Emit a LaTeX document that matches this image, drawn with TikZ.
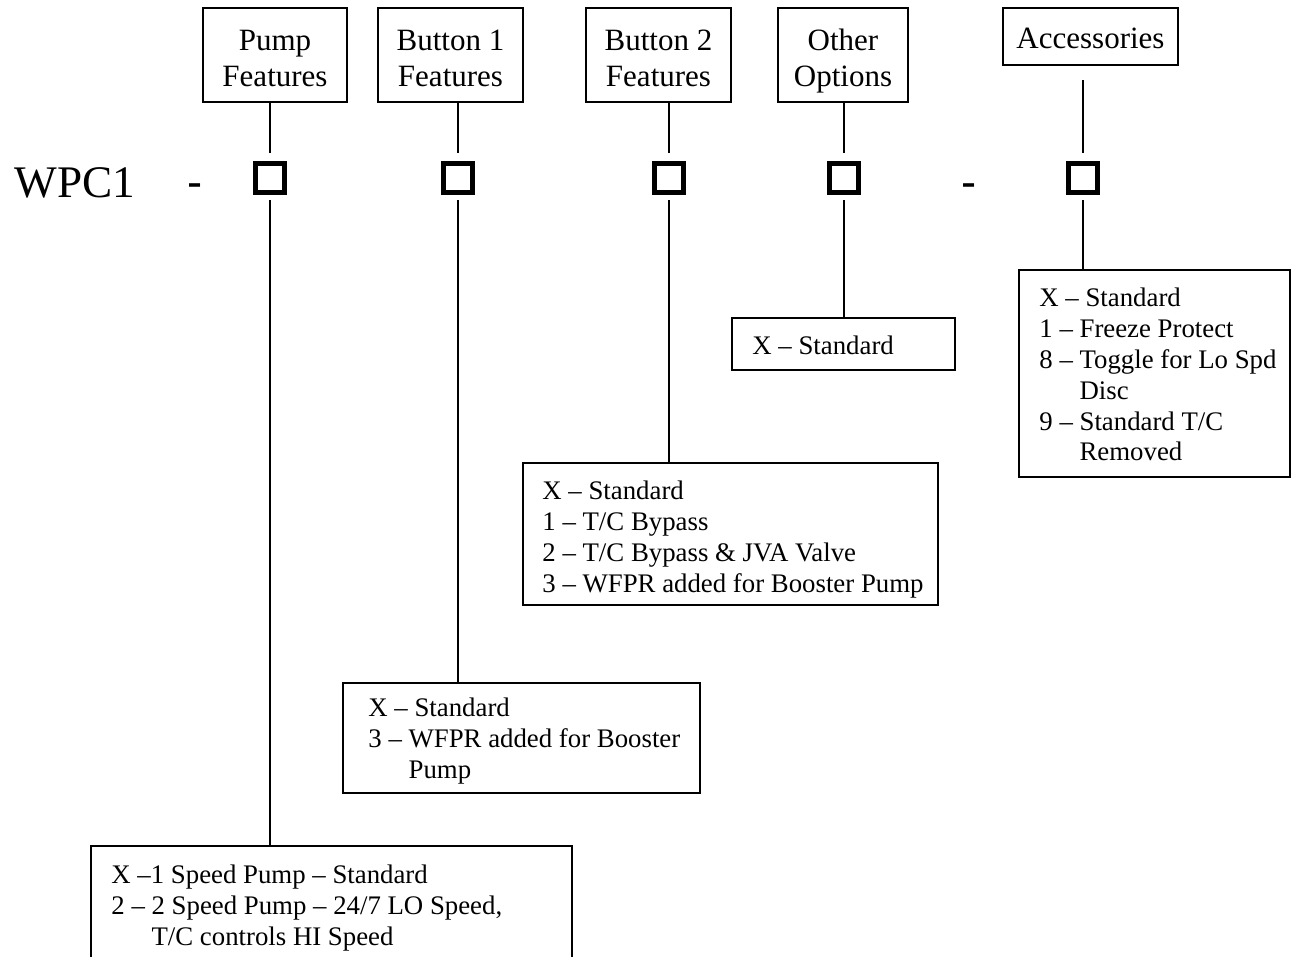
\documentclass[tikz,border=0pt]{standalone}
\usepackage{fontspec}
\setmainfont{Liberation Serif}
\newfontfamily\dashfont{Liberation Sans}
\begin{document}
\begin{tikzpicture}[x=0.5pt,y=-0.5pt,
  frame/.style={draw, line width=1pt, inner sep=0pt, outer sep=0pt, anchor=north west},
  headtext/.style={anchor=north, align=center, inner sep=0pt, font=\fontsize{15.5}{18.3}\selectfont},
  itemtext/.style={anchor=north west, align=left, inner sep=0pt, font=\fontsize{13.4}{15.45}\selectfont},
  slot/.style={draw, line width=2.5pt, minimum width=14.5pt, minimum height=14.5pt, inner sep=0pt, outer sep=0pt},
  link/.style={line width=1pt},
  bigtext/.style={inner sep=0pt, font=\fontsize{22.6}{26}\selectfont}
]
\useasboundingbox (0,0) rectangle (1291,957);

% header boxes
\node[frame, minimum width=72pt, minimum height=47pt] (pf) at (203,8) {};
\node[frame, minimum width=72.5pt, minimum height=47pt] (bif) at (378,8) {};
\node[frame, minimum width=72.5pt, minimum height=47pt] (biif) at (586,8) {};
\node[frame, minimum width=65pt, minimum height=47pt] (oo) at (778,8) {};
\node[frame, minimum width=87.5pt, minimum height=28.5pt] (acc) at (1003,8) {};

\node[headtext] (pft) at (275,26) {\rule{0pt}{12pt}Pump\\Features};
\node[headtext] (bift) at (450.5,26) {\rule{0pt}{12pt}Button 1\\Features};
\node[headtext] (biift) at (658.5,26) {\rule{0pt}{12pt}Button 2\\Features};
\node[headtext] (oot) at (843,26) {\rule{0pt}{12pt}Other\\Options};
\node[headtext] (acct) at (1090.5,24) {\rule{0pt}{12pt}Accessories};

% code line
\node[bigtext, anchor=base west] (wpc) at (14,198) {WPC1};
\node[bigtext, anchor=base, font=\dashfont\fontsize{22.6}{26}\selectfont] (da) at (195,198) {-};
\node[bigtext, anchor=base, font=\dashfont\fontsize{22.6}{26}\selectfont] (db) at (969.5,198) {-};

\node[slot] (s1) at (270,178.5) {};
\node[slot] (s2) at (458,178.5) {};
\node[slot] (s3) at (669,178.5) {};
\node[slot] (s4) at (844,178.5) {};
\node[slot] (s5) at (1083,178.5) {};

% option boxes
\node[frame, minimum width=240.5pt, minimum height=65pt] (ps) at (91,846) {};
\node[frame, minimum width=178.5pt, minimum height=55pt] (bis) at (343,683) {};
\node[frame, minimum width=207.5pt, minimum height=71pt] (biis) at (523,463) {};
\node[frame, minimum width=111.5pt, minimum height=26pt] (oos) at (732,318) {};
\node[frame, minimum width=135.5pt, minimum height=103.5pt] (accs) at (1019,270) {};

\node[itemtext] (pst) at (111,863) {\rule{0pt}{10pt}X --1 Speed Pump -- Standard\\2 -- 2 Speed Pump -- 24/7 LO Speed,\\\phantom{2 -- }T/C controls HI Speed};
\node[itemtext] (bist) at (368,696) {\rule{0pt}{10pt}X -- Standard\\3 -- WFPR added for Booster\\\phantom{3 -- }Pump};
\node[itemtext] (biist) at (542,479) {\rule{0pt}{10pt}X -- Standard\\1 -- T/C Bypass\\2 -- T/C Bypass \& JVA Valve\\3 -- WFPR added for Booster Pump};
\node[itemtext] (oost) at (752,334) {\rule{0pt}{10pt}X -- Standard};
\node[itemtext] (accst) at (1039,286) {\rule{0pt}{10pt}X -- Standard\\1 -- Freeze Protect\\8 -- Toggle for Lo Spd\\\phantom{8 -- }Disc\\9 -- Standard T/C\\\phantom{9 -- }Removed};

% connectors header -> slot
\draw[link, shorten >=5.5pt] (s1 |- pf.south) -- (s1.north);
\draw[link, shorten >=5.5pt] (s2 |- bif.south) -- (s2.north);
\draw[link, shorten >=5.5pt] (s3 |- biif.south) -- (s3.north);
\draw[link, shorten >=5.5pt] (s4 |- oo.south) -- (s4.north);
\draw[link, shorten >=5.5pt, shorten <=7.5pt] (s5 |- acc.south) -- (s5.north);

% connectors slot -> options
\draw[link, shorten <=3.5pt] (s1.south) -- (s1 |- ps.north);
\draw[link, shorten <=3.5pt] (s2.south) -- (s2 |- bis.north);
\draw[link, shorten <=3.5pt] (s3.south) -- (s3 |- biis.north);
\draw[link, shorten <=3.5pt] (s4.south) -- (s4 |- oos.north);
\draw[link, shorten <=3.5pt] (s5.south) -- (s5 |- accs.north);
\end{tikzpicture}
\end{document}
